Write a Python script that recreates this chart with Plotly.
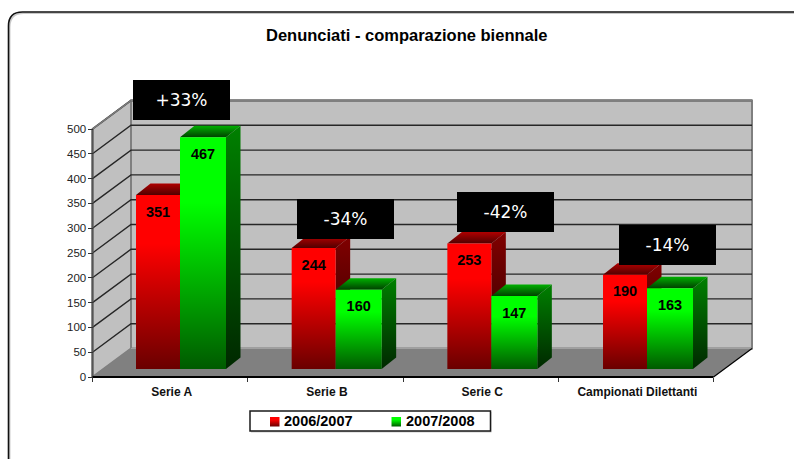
import plotly.graph_objects as go

# ---- data ----
title = "Denunciati - comparazione biennale"
categories = ["Serie A", "Serie B", "Serie C", "Campionati Dilettanti"]
series_names = ["2006/2007", "2007/2008"]
values_0607 = [351, 244, 253, 190]
values_0708 = [467, 160, 147, 163]
changes = ["+33%", "-34%", "-42%", "-14%"]
y_ticks = [0, 50, 100, 150, 200, 250, 300, 350, 400, 450, 500]

# ---- geometry: canvas is filled by the axes, so pixels map linearly to data ----
W, H = 794, 459
X0_PX, Y0_PX = 92.5, 377
CAT_PX, VAL_PX = 155.25, 0.496
def px(x): return (x - X0_PX) / CAT_PX
def py(y): return (Y0_PX - y) / VAL_PX

DX, DY = 38.5 / CAT_PX, 28.5 / VAL_PX      # depth of the box
BDX, BDY = 14.5 / CAT_PX, 11.5 / VAL_PX    # depth of a bar
BASE = 8 / VAL_PX                          # bars stand slightly up the floor
OFF = 43.5 / CAT_PX
STEP = 155.67 / CAT_PX
W_RED, W_GRN = 44 / CAT_PX, 46 / CAT_PX
TOP_VAL = y_ticks[-1]
N = len(categories)
FONT = "Liberation Sans"

fig = go.Figure()

def poly(xs, ys, fill=None, line=None, lw=0, grad=None):
    kw = dict(x=xs, y=ys, mode="lines", hoverinfo="skip", showlegend=False,
              line=dict(color=line or "rgba(0,0,0,0)", width=lw))
    if fill or grad:
        kw["fill"] = "toself"
        if grad:
            kw["fillgradient"] = dict(type="vertical", colorscale=grad)
        else:
            kw["fillcolor"] = fill
    fig.add_trace(go.Scatter(**kw))

def ramp(low, high, knee=1.0):
    return [[0, low], [knee, high], [1, high]]

# walls and floor
poly([DX, N + DX, N + DX, DX, DX], [DY, DY, TOP_VAL + DY, TOP_VAL + DY, DY],
     fill="#c0c0c0", line="#7f7f7f", lw=2)
poly([0, DX, DX, 0, 0], [0, DY, TOP_VAL + DY, TOP_VAL, 0],
     fill="#c0c0c0", line="#7f7f7f", lw=2)
poly([0, N, N + DX, DX, 0], [0, 0, DY, DY, 0], fill="#808080")

# grid
for v in y_ticks[1:]:
    poly([0, DX, N + DX], [v, v + DY, v + DY], line="#262626", lw=1.4)
poly([DX, N + DX], [TOP_VAL + DY, TOP_VAL + DY], line="#7f7f7f", lw=2)
poly([DX, N + DX], [DY, DY], line="#a0a0a0", lw=1)

# axes
poly([0, 0], [0, TOP_VAL], line="#555555", lw=2)
poly([0, N], [0, 0], line="#000000", lw=2)
poly([0, DX], [TOP_VAL, TOP_VAL + DY], line="#7f7f7f", lw=1.5)
poly([N, N + DX], [0, DY], line="#000000", lw=1.2)

# bars
def bar3d(x, w, v, front, side, top):
    y0, y1 = BASE, BASE + v
    poly([x, x + BDX, x + w + BDX, x + w, x], [y1, y1 + BDY, y1 + BDY, y1, y1], grad=top)
    poly([x + w, x + w + BDX, x + w + BDX, x + w, x + w],
         [y0, y0 + BDY, y1 + BDY, y1, y0], grad=side)
    poly([x, x + w, x + w, x, x], [y0, y0, y1, y1, y0], grad=front)

RED = dict(front=ramp("#6a0000", "#ff0000", 0.72), side=ramp("#2a0000", "#800000"), top=ramp("#500000", "#b00000"))
GRN = dict(front=ramp("#005a00", "#00ff00", 0.72), side=ramp("#002800", "#008000"), top=ramp("#004000", "#00b000"))

label_x, label_y, label_t = [], [], []
LABEL_DROP = 18 / VAL_PX
for i in range(N):
    xr = i * STEP + OFF
    xg = xr + W_RED
    bar3d(xr, W_RED, values_0607[i], **RED)
    bar3d(xg, W_GRN, values_0708[i], **GRN)
    label_x += [xr + W_RED / 2, xg + W_GRN / 2]
    label_y += [BASE + values_0607[i] - LABEL_DROP, BASE + values_0708[i] - LABEL_DROP]
    label_t += [str(values_0607[i]), str(values_0708[i])]

fig.add_trace(go.Scatter(x=label_x, y=label_y, text=label_t, mode="text",
                         textposition="middle center", hoverinfo="skip", showlegend=False,
                         textfont=dict(family=FONT, size=14.5, color="#000000", weight=700)))

# legend swatches
for sx, grad in [(270, RED["front"]), (391.5, GRN["front"])]:
    poly([px(sx), px(sx + 9.5), px(sx + 9.5), px(sx), px(sx)],
         [py(426.5), py(426.5), py(417), py(417), py(426.5)], grad=grad)

# callouts
callout_px = [(181.5, 100), (345.5, 219), (505.5, 212), (667.5, 244.5)]
annotations = []
for (cx, cy), t in zip(callout_px, changes):
    annotations.append(dict(x=px(cx), y=py(cy), xref="x", yref="y", text=t, showarrow=False,
                            width=97, height=40, bgcolor="#000000", borderpad=0, borderwidth=0,
                            xanchor="center", yanchor="middle", align="center", valign="middle",
                            font=dict(family="DejaVu Sans", size=17, color="#ffffff")))
# title & legend text
annotations.append(dict(x=406 / W, y=1 - 35 / H, xref="paper", yref="paper", text=title,
                        showarrow=False, xanchor="center", yanchor="middle",
                        font=dict(family=FONT, size=16.5, color="#000000", weight=700)))
for name, lx in [(series_names[0], 283), (series_names[1], 404.5)]:
    annotations.append(dict(x=lx / W, y=1 - 421 / H, xref="paper", yref="paper", text=name,
                            showarrow=False, xanchor="left", yanchor="middle", xshift=-1,
                            font=dict(family=FONT, size=14.5, color="#000000", weight=700)))

def fx(x): return x / W
def fy(y): return 1 - y / H
def frame(dx, dy, col, w):
    x, t, r = 8.5 + dx, 12 + dy, 14
    return dict(type="path", xref="paper", yref="paper", layer="below",
                path=f"M {fx(x)} {fy(H)} L {fx(x)} {fy(t + r)} Q {fx(x)} {fy(t)} {fx(x + r)} {fy(t)} L {fx(W)} {fy(t)}",
                line=dict(color=col, width=w))

shapes = [
    frame(1.2, 1.2, "#c8c8c8", 1.5),
    frame(0, 0, "#111111", 1.6),
    dict(type="rect", xref="paper", yref="paper", layer="below",
         x0=fx(251), x1=fx(491.5), y0=fy(432.5), y1=fy(412), fillcolor="#cccccc", line=dict(width=0)),
    dict(type="rect", xref="paper", yref="paper", layer="below",
         x0=fx(250), x1=fx(490.5), y0=fy(431), y1=fy(411), fillcolor="#ffffff",
         line=dict(color="#1a1a1a", width=1.5)),
]

fig.update_layout(
    width=W, height=H, autosize=False, showlegend=False,
    margin=dict(l=0, r=0, t=0, b=0, pad=0),
    paper_bgcolor="#ffffff", plot_bgcolor="rgba(0,0,0,0)",
    annotations=annotations, shapes=shapes,
    xaxis=dict(range=[px(0), px(W)], anchor="free", position=fy(Y0_PX), showgrid=False, zeroline=False,
               showline=False, tickmode="array", tickvals=[i + 0.5 + 0.01 for i in range(N)],
               ticktext=categories, ticks="", ticklabelstandoff=6,
               tickfont=dict(family=FONT, size=12, color="#111111", weight=700),
               minor=dict(tickmode="array", tickvals=list(range(N + 1)), ticks="outside",
                          ticklen=4, tickwidth=1, tickcolor="#333333", showgrid=False)),
    yaxis=dict(range=[py(H), py(0)], anchor="free", position=fx(X0_PX), showgrid=False, zeroline=False,
               showline=False, tickmode="array", tickvals=y_ticks, ticks="outside", ticklen=5,
               tickwidth=1, tickcolor="#333333", ticklabelstandoff=-1,
               tickfont=dict(family=FONT, size=11.5, color="#222222")),
)

fig.write_html("out.html", config={"displayModeBar": False},
               post_script="document.body.style.margin='0';document.body.style.overflow='hidden';")
